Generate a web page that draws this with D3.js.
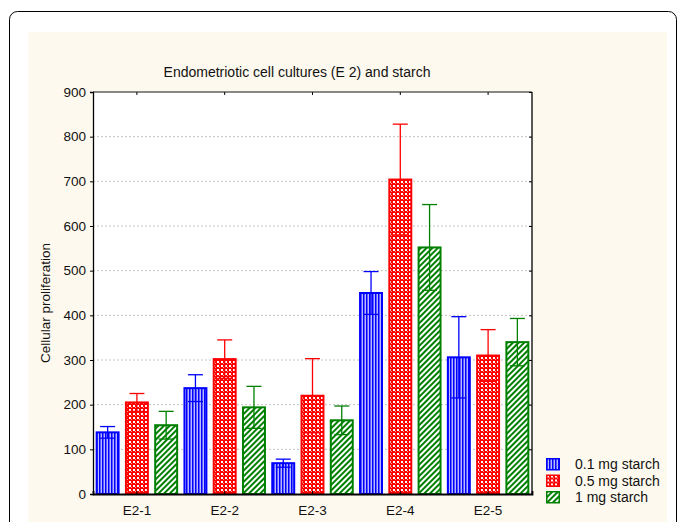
<!DOCTYPE html>
<html>
<head>
<meta charset="utf-8">
<script src="https://cdn.jsdelivr.net/npm/d3@7"></script>
<style>
  html, body { margin: 0; padding: 0; background: #ffffff; }
  svg { display: block; font-family: "Liberation Sans", Arial, sans-serif; }
</style>
</head>
<body>
<svg id="chart" width="681" height="522"></svg>
<script>
// Cell culture groups and the three starch doses
const categories = ["E2-1", "E2-2", "E2-3", "E2-4", "E2-5"];
const seriesNames = ["0.1 mg starch", "0.5 mg starch", "1 mg starch"];

// Mean cellular proliferation per group, one array per dose
const dose01Means = [138, 237, 69, 450, 306];
const dose05Means = [205, 302, 220, 704, 310];
const dose1Means  = [154, 194, 165, 552, 340];

// Error bar half-widths per group
const dose01Errors = [13, 30, 9, 48, 91];
const dose05Errors = [20, 43, 83, 124, 58];
const dose1Errors  = [31, 47, 32, 96, 53];

const yTicks = [0, 100, 200, 300, 400, 500, 600, 700, 800, 900];

const seriesColors = ["#0000ff", "#ff0000", "#008000"];
const patternIds = ["pat-vert", "pat-check", "pat-diag"];

const series = [
  { name: seriesNames[0], means: dose01Means, errs: dose01Errors },
  { name: seriesNames[1], means: dose05Means, errs: dose05Errors },
  { name: seriesNames[2], means: dose1Means,  errs: dose1Errors }
];

const svg = d3.select("#chart");

// Fill patterns: vertical stripes, checks, diagonal hatch
const defs = svg.append("defs");
const pv = defs.append("pattern").attr("id", "pat-vert")
  .attr("patternUnits", "userSpaceOnUse").attr("width", 3).attr("height", 3);
pv.append("rect").attr("width", 3).attr("height", 3).attr("fill", "#b8b8ff");
pv.append("rect").attr("width", 1).attr("height", 3).attr("fill", "#0000ff");
pv.append("rect").attr("x", 1).attr("width", 1).attr("height", 3).attr("fill", "#5a5aff");

const pc = defs.append("pattern").attr("id", "pat-check")
  .attr("patternUnits", "userSpaceOnUse").attr("width", 4).attr("height", 4);
pc.append("rect").attr("width", 4).attr("height", 4).attr("fill", "#ff0000");
pc.append("rect").attr("x", 1).attr("y", 1).attr("width", 2).attr("height", 2).attr("fill", "#ffffff");
pc.append("rect").attr("x", 3).attr("y", 3).attr("width", 1).attr("height", 1).attr("fill", "#ff9a9a");

const pd = defs.append("pattern").attr("id", "pat-diag")
  .attr("patternUnits", "userSpaceOnUse").attr("width", 4).attr("height", 4)
  .attr("patternTransform", "rotate(45)");
pd.append("rect").attr("width", 4).attr("height", 4).attr("fill", "#ffffff");
pd.append("rect").attr("width", 2).attr("height", 4).attr("fill", "#008000");

// Page frame and cream panel
svg.append("rect")
  .attr("x", 9.5).attr("y", 11.5).attr("width", 667).attr("height", 560)
  .attr("rx", 8).attr("ry", 8)
  .attr("fill", "#ffffff").attr("stroke", "#000000").attr("stroke-width", 1);
svg.append("rect")
  .attr("x", 28).attr("y", 32).attr("width", 639).attr("height", 500)
  .attr("fill", "#fef9ee");

// Plot area bounds
const plotLeft = 93, plotRight = 532, plotTop = 92, plotBottom = 494;

svg.append("rect")
  .attr("x", plotLeft).attr("y", plotTop)
  .attr("width", plotRight - plotLeft).attr("height", plotBottom - plotTop)
  .attr("fill", "#ffffff");

const x = d3.scaleBand().domain(categories).range([plotLeft, plotRight]).padding(0);
const xs = d3.scaleBand().domain(d3.range(series.length))
  .range([0, x.bandwidth()]).paddingInner(0.25).paddingOuter(0.125);
const y = d3.scaleLinear().domain([0, 900]).range([plotBottom, plotTop]);

// Dotted horizontal grid
svg.append("g").selectAll("line")
  .data(yTicks.filter(t => t > 0 && t < 900))
  .join("line")
  .attr("x1", plotLeft).attr("x2", plotRight)
  .attr("y1", d => y(d)).attr("y2", d => y(d))
  .attr("stroke", "#c4c4c4").attr("stroke-width", 1)
  .attr("stroke-dasharray", "2,2");

// Bars
series.forEach((s, si) => {
  const g = svg.append("g");
  categories.forEach((c, ci) => {
    const bx = x(c) + xs(si);
    const v = s.means[ci];
    g.append("rect")
      .attr("x", bx).attr("y", y(v))
      .attr("width", xs.bandwidth()).attr("height", y(0) - y(v))
      .attr("fill", `url(#${patternIds[si]})`)
      .attr("stroke", seriesColors[si]).attr("stroke-width", 2);
  });
});

// Error bars with caps at both ends
const capHalf = 7.5;
series.forEach((s, si) => {
  const g = svg.append("g").attr("stroke", seriesColors[si]).attr("stroke-width", 1.3);
  categories.forEach((c, ci) => {
    const cx = x(c) + xs(si) + xs.bandwidth() / 2;
    const hi = s.means[ci] + s.errs[ci];
    const lo = s.means[ci] - s.errs[ci];
    g.append("line").attr("x1", cx).attr("x2", cx).attr("y1", y(hi)).attr("y2", y(lo));
    g.append("line").attr("x1", cx - capHalf).attr("x2", cx + capHalf).attr("y1", y(hi)).attr("y2", y(hi));
    g.append("line").attr("x1", cx - capHalf).attr("x2", cx + capHalf).attr("y1", y(lo)).attr("y2", y(lo));
  });
});

// Frame of the plot area
svg.append("line").attr("x1", plotLeft).attr("x2", plotRight).attr("y1", plotTop).attr("y2", plotTop)
  .attr("stroke", "#606060").attr("stroke-width", 1.5);
svg.append("line").attr("x1", plotRight).attr("x2", plotRight).attr("y1", plotTop).attr("y2", plotBottom)
  .attr("stroke", "#000000").attr("stroke-width", 1.3);

// Axes
const yAxis = d3.axisLeft(y).tickValues(yTicks).tickSize(3).tickPadding(4);
const yg = svg.append("g").attr("transform", `translate(${plotLeft},0)`).call(yAxis);
yg.select(".domain").attr("stroke", "#000000").attr("stroke-width", 1.3);
yg.selectAll("text").attr("font-size", 13.5).attr("fill", "#111111")
  .attr("font-family", "'Liberation Sans', Arial, sans-serif");

const yRight = d3.axisRight(y).tickValues(yTicks).tickSize(-3).tickFormat("");
const yrg = svg.append("g").attr("transform", `translate(${plotRight},0)`).call(yRight);
yrg.select(".domain").remove();

const xAxis = d3.axisBottom(x).tickSize(-3).tickPadding(11);
const xg = svg.append("g").attr("transform", `translate(0,${plotBottom})`).call(xAxis);
xg.select(".domain").attr("stroke", "#000000").attr("stroke-width", 1.8);
xg.selectAll("text").attr("font-size", 13.5).attr("fill", "#111111")
  .attr("font-family", "'Liberation Sans', Arial, sans-serif");

const xTop = d3.axisTop(x).tickSize(-3).tickFormat("");
const xtg = svg.append("g").attr("transform", `translate(0,${plotTop})`).call(xTop);
xtg.select(".domain").remove();

// Title and axis label
svg.append("text")
  .attr("x", 297).attr("y", 77)
  .attr("text-anchor", "middle")
  .attr("font-size", 14).attr("fill", "#111111")
  .text("Endometriotic cell cultures (E 2) and starch");

svg.append("text")
  .attr("transform", "translate(50,303) rotate(-90)")
  .attr("text-anchor", "middle")
  .attr("font-size", 13.5).attr("fill", "#111111")
  .text("Cellular proliferation");

// Legend
const legend = svg.append("g").attr("transform", "translate(546,458)");
seriesNames.forEach((name, i) => {
  const row = legend.append("g").attr("transform", `translate(0,${i * 16.5})`);
  row.append("rect")
    .attr("x", 0.75).attr("y", 0.75).attr("width", 12.5).attr("height", 11)
    .attr("fill", `url(#${patternIds[i]})`)
    .attr("stroke", seriesColors[i]).attr("stroke-width", 1.5);
  row.append("text")
    .attr("x", 29).attr("y", 6.5).attr("dy", "0.35em")
    .attr("font-size", 14).attr("fill", "#111111")
    .text(name);
});
</script>
</body>
</html>
